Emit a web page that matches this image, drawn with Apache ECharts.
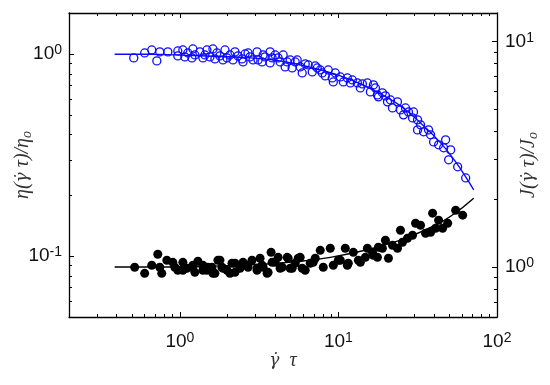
<!DOCTYPE html>
<html><head><meta charset="utf-8">
<script src="https://cdn.jsdelivr.net/npm/echarts@6/dist/echarts.min.js"></script>
<style>html,body{margin:0;padding:0;background:#fff}#c{width:550px;height:385px}</style>
</head><body><div id="c"></div>
<script>
// ---- data ----
const etaX = [0.512,0.600,0.665,0.716,0.747,0.840,0.971,0.971,1.045,1.075,1.209,1.191,1.244,1.338,1.398,1.482,1.548,1.617,1.664,1.713,1.790,1.870,1.926,2.071,2.164,2.227,2.327,2.467,2.503,2.577,2.692,2.771,2.895,3.069,3.114,3.349,3.448,3.708,3.708,3.818,4.166,4.290,4.482,4.614,4.751,4.962,5.109,5.495,5.740,5.910,6.174,6.450,6.837,7.142,7.354,7.681,7.908,8.261,8.630,9.148,9.282,9.556,10.28,10.74,11.38,11.89,12.24,13.17,13.75,14.16,15.23,15.91,16.62,17.11,17.62,17.87,18.94,19.79,20.38,21.29,21.92,23.57,24.62,25.72,26.48,27.66,29.33,29.76,31.55,31.55,32.95,34.42,37.02,38.12,39.82,42.83,46.07,47.43,51.01,49.55,56.48,63.47,1.123,1.439,1.983,3.301,3.988,5.337];
const etaY = [0.959,1.015,1.050,0.927,1.027,1.027,1.038,0.981,1.050,0.970,1.062,0.959,0.992,1.027,0.959,1.050,0.970,1.062,0.948,1.015,0.981,0.937,1.050,0.992,0.937,1.027,0.981,0.948,0.916,1.003,1.015,0.970,0.937,1.027,0.937,0.992,0.970,1.027,0.906,0.959,0.959,0.916,0.992,0.865,0.916,0.937,0.855,0.937,0.865,0.808,0.895,0.885,0.817,0.875,0.855,0.836,0.808,0.781,0.836,0.763,0.729,0.808,0.772,0.729,0.763,0.721,0.746,0.721,0.681,0.713,0.721,0.651,0.705,0.681,0.629,0.615,0.644,0.622,0.581,0.594,0.542,0.581,0.530,0.501,0.542,0.518,0.484,0.518,0.473,0.422,0.447,0.413,0.422,0.399,0.368,0.356,0.344,0.377,0.336,0.300,0.277,0.244,1.015,0.992,0.959,0.916,0.992,0.916];
const etaFitX = [0.388,0.646,1.0,1.79,2.771,4.29,5.74,7.681,10.28,13.75,18.4,24.62,32.95,44.1,54.86,63.47,71.3];
const etaFitY = [1.0,1.0,0.99,0.975,0.959,0.927,0.885,0.836,0.781,0.713,0.636,0.555,0.457,0.364,0.293,0.247,0.213];

const jX = [0.519,0.600,0.665,0.726,0.747,0.769,0.828,0.903,0.930,0.971,1.045,1.107,1.191,1.244,1.300,1.398,1.482,1.594,1.664,1.790,1.843,1.983,2.132,2.227,2.396,2.503,2.692,2.853,3.069,3.206,3.349,3.602,3.762,3.818,4.166,4.417,4.820,5.109,5.575,5.910,1.045,1.209,1.398,1.503,1.617,1.738,1.870,2.071,2.227,2.396,2.653,3.069,3.301,3.550,3.988,4.290,4.751,4.962,5.337,5.740,6.174,6.937,7.681,8.024,8.885,9.282,9.983,11.05,11.54,12.42,13.36,15.23,16.62,17.87,6.640,7.142,10.28,11.38,13.75,14.79,16.38,17.62,18.94,19.79,20.67,21.92,23.57,24.62,25.35,27.26,29.33,30.64,32.95,35.44,38.12,39.25,41.00,42.83,45.40,48.84,54.86,60.76];
const jY = [0.997,0.937,1.018,1.139,0.997,0.937,1.071,1.049,0.997,0.967,1.049,0.987,0.997,0.947,1.060,1.018,0.967,0.997,0.937,1.071,0.997,0.967,1.039,0.947,1.018,1.049,0.997,1.071,0.987,1.093,0.997,0.947,1.162,1.049,1.104,0.997,1.093,0.987,1.093,0.987,0.967,1.018,0.967,0.997,0.937,1.071,0.987,0.937,1.039,0.987,1.018,0.967,1.018,0.937,1.049,0.987,1.104,0.987,1.039,1.104,0.967,1.049,1.186,0.997,1.211,1.018,1.071,1.211,1.039,1.162,1.071,1.211,1.127,1.223,1.039,1.093,1.071,1.018,1.049,1.104,1.162,1.104,1.211,1.314,1.093,1.249,1.211,1.456,1.288,1.342,1.383,1.564,1.532,1.412,1.427,1.733,1.486,1.613,1.486,1.564,1.786,1.698];
const jFitX = [0.388,1.0,1.79,3.206,5.74,8.885,13.75,21.29,28.49,38.12,51.01,71.3];
const jFitY = [1.0,1.0,1.012,1.028,1.06,1.104,1.174,1.274,1.369,1.501,1.68,2.02];

const xRange = [0.2, 100];
const etaRange = [0.05, 1.6];
const jRange = [0.6, 13.4];
const xMajor = [1, 10, 100];
const etaMajor = [0.1, 1];
const jMajor = [1, 10];

// ---- build ----
function minorTicks(lo, hi) {
  const out = [];
  for (let d = -3; d <= 3; d++) for (let m = 2; m <= 9; m++) {
    const v = +(m * Math.pow(10, d)).toPrecision(3);
    if (v >= lo && v <= hi) out.push(v);
  }
  return out;
}
const pairs = (xs, ys) => xs.map((x, i) => [x, ys[i]]);
const sans = 'Liberation Sans, Arial, sans-serif';
const serif = 'Liberation Serif, Times New Roman, serif';
const rich = {
  b: { fontSize: 19, fontFamily: sans, color: '#111', lineHeight: 22 },
  s: { fontSize: 14, fontFamily: sans, color: '#111', verticalAlign: 'top', lineHeight: 9 }
};
const fmt = v => '{b|10}{s|' + Math.round(Math.log10(v)) + '}';
const line = { show: true, lineStyle: { color: '#000', width: 1.3 } };
function nameStyle() {
  const base = { fontStyle: 'italic', color: '#333' };
  return Object.assign({ fontFamily: serif, fontSize: 20 }, base, {
    rich: {
      n: Object.assign({ fontFamily: serif, fontSize: 20, lineHeight: 22 }, base),
      g: Object.assign({ fontFamily: 'DejaVu Serif', fontSize: 17, lineHeight: 22 }, base),
      o: Object.assign({ fontFamily: serif, fontSize: 14, lineHeight: 10, verticalAlign: 'bottom' }, base)
    }
  });
}

function ax(range, pos, ticks, len, opts) {
  return Object.assign({
    type: 'log', min: range[0], max: range[1], position: pos,
    axisLine: { show: false }, splitLine: { show: false },
    axisTick: { show: true, inside: true, length: len, customValues: ticks, lineStyle: { color: '#000', width: 1 } },
    axisLabel: { show: false }, nameMoveOverlap: false
  }, opts || {});
}
const labelOpt = (margin, vals) => ({ show: true, customValues: vals, formatter: fmt, rich: rich, margin: margin });

const xMin = minorTicks(xRange[0] * 1.0001, xRange[1]);
const eMin = minorTicks(etaRange[0], etaRange[1]);
const jMin = minorTicks(jRange[0], jRange[1]);

const xAxes = [
  ax(xRange, 'bottom', xMajor, 5, { axisLine: line, axisLabel: labelOpt(14, xMajor),
    name: '{g|γ̇}{n|  τ}', nameLocation: 'middle', nameGap: 33, nameTextStyle: nameStyle() }),
  ax(xRange, 'bottom', xMin, 3),
  ax(xRange, 'top', xMajor, 5, { axisLine: line }),
  ax(xRange, 'top', xMin, 3)
];
const yAxes = [
  ax(etaRange, 'left', etaMajor, 5, { axisLine: line, axisLabel: labelOpt(7, etaMajor),
    name: '{n|η(}{g|γ̇}{n| τ)/η}{o|o}', nameLocation: 'middle', nameRotate: 90, nameGap: 35, nameTextStyle: nameStyle() }),
  ax(etaRange, 'left', eMin, 3),
  ax(jRange, 'right', jMajor, 5, { axisLine: line, axisLabel: labelOpt(8, jMajor),
    name: '{n|J(}{g|γ̇}{n| τ)/J}{o|o}', nameLocation: 'middle', nameRotate: 90, nameGap: 21, nameTextStyle: nameStyle() }),
  ax(jRange, 'right', jMin, 3)
];

const chart = echarts.init(document.getElementById('c'));
chart.setOption({
  animation: false,
  backgroundColor: '#fff',
  grid: { left: 69, right: 53, top: 13, bottom: 68, containLabel: false, outerBoundsMode: 'none' },
  xAxis: xAxes,
  yAxis: yAxes,
  series: [
    { type: 'line', xAxisIndex: 0, yAxisIndex: 0, data: pairs(etaFitX, etaFitY), showSymbol: false, smooth: true,
      lineStyle: { color: '#0a0aff', width: 1.4 }, z: 3 },
    { type: 'scatter', xAxisIndex: 0, yAxisIndex: 0, data: pairs(etaX, etaY), symbol: 'circle', symbolSize: 8,
      itemStyle: { color: 'rgba(0,0,0,0)', borderColor: '#0a0aff', borderWidth: 1.3, opacity: 1 }, z: 4 },
    { type: 'line', xAxisIndex: 0, yAxisIndex: 2, data: pairs(jFitX, jFitY), showSymbol: false, smooth: true,
      lineStyle: { color: '#000', width: 1.4 }, z: 3 },
    { type: 'scatter', xAxisIndex: 0, yAxisIndex: 2, data: pairs(jX, jY), symbol: 'circle', symbolSize: 9,
      itemStyle: { color: '#000', opacity: 1 }, z: 4 }
  ]
});
</script>
</body></html>
